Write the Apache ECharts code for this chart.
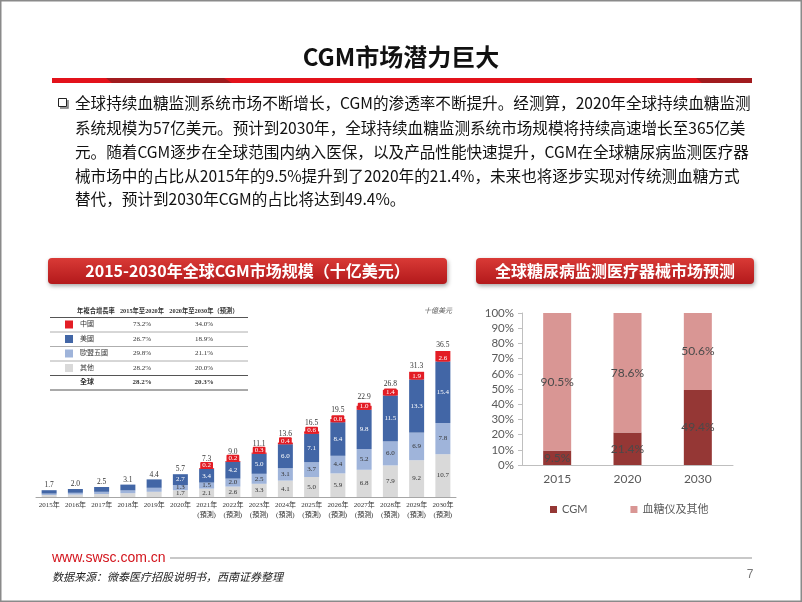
<!DOCTYPE html>
<html><head><meta charset="utf-8">
<script src="https://cdn.jsdelivr.net/npm/echarts@6/dist/echarts.min.js"></script>
<style>html,body{margin:0;padding:0;background:#fff}#c{width:802px;height:602px}</style>
</head><body><div id="c"></div>
<script>
// ---------- data ----------
const titleText = 'CGM市场潜力巨大';
const paragraphLines = [
  '全球持续血糖监测系统市场不断增长，CGM的渗透率不断提升。经测算，2020年全球持续血糖监测',
  '系统规模为57亿美元。预计到2030年，全球持续血糖监测系统市场规模将持续高速增长至365亿美',
  '元。随着CGM逐步在全球范围内纳入医保，以及产品性能快速提升，CGM在全球糖尿病监测医疗器',
  '械市场中的占比从2015年的9.5%提升到了2020年的21.4%，未来也将逐步实现对传统测血糖方式',
  '替代，预计到2030年CGM的占比将达到49.4%。'
];
const leftHeader = '2015-2030年全球CGM市场规模（十亿美元）';
const rightHeader = '全球糖尿病监测医疗器械市场预测';

const yearLabels = ['2015年','2016年','2017年','2018年','2019年','2020年',
  '2021年\n(預測)','2022年\n(預測)','2023年\n(預測)','2024年\n(預測)','2025年\n(預測)',
  '2026年\n(預測)','2027年\n(預測)','2028年\n(預測)','2029年\n(預測)','2030年\n(預測)'];
const othersVals = [0.5,0.6,0.75,0.95,1.3,1.7,2.1,2.6,3.3,4.1,5.0,5.9,6.8,7.9,9.2,10.7];
const eu5Vals    = [0.35,0.45,0.55,0.7,1.0,1.3,1.5,2.0,2.5,3.1,3.7,4.4,5.2,6.0,6.9,7.8];
const usVals     = [0.85,0.95,1.2,1.45,2.1,2.7,3.4,4.2,5.0,6.0,7.1,8.4,9.8,11.5,13.3,15.4];
const chinaVals  = [0,0,0,0,0,0,0.2,0.2,0.3,0.4,0.6,0.8,1.0,1.4,1.9,2.6];
const totalVals  = [1.7,2.0,2.5,3.1,4.4,5.7,7.3,9.0,11.1,13.6,16.5,19.5,22.9,26.8,31.3,36.5];

const tableHead = ['年複合增長率','2015年至2020年','2020年至2030年（預測）'];
const tableRegions = ['中國','美國','歐盟五國','其他','全球'];
const cagr1520 = ['73.2%','26.7%','29.8%','28.2%','28.2%'];
const cagr2030 = ['34.0%','18.9%','21.1%','20.0%','20.3%'];
const unitText = '十億美元';

const shareYears = ['2015','2020','2030'];
const cgmShare   = [9.5,21.4,49.4];
const otherShare = [90.5,78.6,50.6];

const footerUrl = 'www.swsc.com.cn';
const sourceText = '数据来源：微泰医疗招股说明书，西南证券整理';
const pageNo = '7';

// ---------- styles ----------
const CJK = "'Noto Sans CJK SC','Noto Sans',sans-serif";
const SERIF = "'Liberation Serif','Noto Sans CJK TC',serif";
const C_CHINA = '#e31d25', C_US = '#4266a6', C_EU = '#9fb4da', C_OTH = '#d9d9d9';
const swatch = [C_CHINA, C_US, C_EU, C_OTH, null];
const SMALL = 7;

const chart = echarts.init(document.getElementById('c'), null, {renderer:'canvas'});

const g = [];
// slide border
g.push({type:'rect', shape:{x:0.75,y:0.75,width:800.5,height:600.5}, style:{fill:'none', stroke:'#8a8a8a', lineWidth:1.5}, z:100});
// title
g.push({type:'text', x:401, y:57, style:{text:titleText, font:"bold 24px "+CJK, fill:'#111', textAlign:'center', textVerticalAlign:'middle'}});
// red band
g.push({type:'rect', shape:{x:52,y:78,width:700,height:5}, style:{fill:'#e3121b'}});
g.push({type:'polygon', shape:{points:[[106,78],[224,78],[232,83],[112,83]]}, style:{fill:'#a11b1e'}});
g.push({type:'polygon', shape:{points:[[696,78],[752,78],[752,83],[702,83]]}, style:{fill:'#a11b1e'}});
// bullet
g.push({type:'rect', shape:{x:58.5,y:98.5,width:8,height:8}, style:{fill:'#fff', stroke:'#222', lineWidth:1}});
g.push({type:'polyline', shape:{points:[[68,100],[68,108],[60,108]]}, style:{stroke:'#777', lineWidth:1.5, fill:'none'}});
// paragraph
const lineY = [103,128,152,176,199];
paragraphLines.forEach((t,i)=>g.push({type:'text', x:75, y:lineY[i], style:{text:t, font:"15.6px "+CJK, fill:'#111', textVerticalAlign:'middle'}}));
// header bars
function headerBar(x,w,text){
  g.push({type:'rect', shape:{x:x,y:258,width:w,height:26,r:4},
    style:{fill:new echarts.graphic.LinearGradient(0,0,0,1,[{offset:0,color:'#d93a36'},{offset:1,color:'#b3191b'}]),
      shadowBlur:4, shadowColor:'rgba(0,0,0,0.35)', shadowOffsetY:2, shadowOffsetX:1}});
  g.push({type:'text', x:x+w/2, y:271, style:{text:text, font:"bold 16px "+CJK, fill:'#fff', textAlign:'center', textVerticalAlign:'middle'}});
}
headerBar(48,399,leftHeader);
headerBar(476,278,rightHeader);
// table
const colX = [96,142,204];
tableHead.forEach((t,i)=>g.push({type:'text', x:colX[i], y:311, style:{text:t, font:"bold 6.3px "+SERIF, fill:'#333', textAlign:'center', textVerticalAlign:'middle'}}));
const rowY = [324.5,339,353.5,368,382.5];
const ruleY = [317.5,332,346.5,361,375.5,390];
ruleY.forEach((y,i)=>g.push({type:'line', shape:{x1:50,y1:y,x2:248,y2:y}, style:{stroke: (i===0||i===4||i===5)?'#555':'#999', lineWidth:(i===0||i===4||i===5)?1:0.8}}));
tableRegions.forEach((r,i)=>{
  if (swatch[i]) g.push({type:'rect', shape:{x:65,y:rowY[i]-4,width:8,height:8}, style:{fill:swatch[i]}});
  const bold = i===4 ? 'bold ' : '';
  g.push({type:'text', x:80, y:rowY[i], style:{text:r, font:bold+"7px "+SERIF, fill:'#333', textVerticalAlign:'middle'}});
  g.push({type:'text', x:colX[1], y:rowY[i], style:{text:cagr1520[i], font:bold+"7px "+SERIF, fill:'#333', textAlign:'center', textVerticalAlign:'middle'}});
  g.push({type:'text', x:colX[2], y:rowY[i], style:{text:cagr2030[i], font:bold+"7px "+SERIF, fill:'#333', textAlign:'center', textVerticalAlign:'middle'}});
});
g.push({type:'text', x:438, y:311, style:{text:unitText, font:"italic 7px "+SERIF, fill:'#555', textAlign:'center', textVerticalAlign:'middle'}});
// footer
g.push({type:'text', x:52, y:558, style:{text:footerUrl, font:"14px 'Liberation Sans',Arial,sans-serif", fill:'#d3141c', textVerticalAlign:'middle'}});
g.push({type:'line', shape:{x1:170,y1:558,x2:752,y2:558}, style:{stroke:'#c8c8c8', lineWidth:2}});
g.push({type:'text', x:52, y:577, style:{text:sourceText, font:"italic 11px "+CJK, fill:'#222', textVerticalAlign:'middle'}});
g.push({type:'text', x:750, y:575, style:{text:pageNo, font:"12px 'Liberation Sans',sans-serif", fill:'#777', textAlign:'center', textVerticalAlign:'middle'}});

function segLabel(color){
  return {show:true, position:'inside', color:color, fontSize:SMALL, fontFamily:SERIF,
    formatter:p=> p.dataIndex>=5 ? p.value.toFixed(1) : ''};
}

const option = {
  animation:false,
  backgroundColor:'#fff',
  graphic:g,
  grid:[
    {left:36, right:346, top:337, bottom:105},
    {left:522, right:69, top:313, bottom:137}
  ],
  legend:{
    data:['CGM','血糖仪及其他'], left:545, top:499, itemWidth:7, itemHeight:7, itemGap:43, icon:'rect',
    textStyle:{fontSize:11, color:'#595959', fontFamily:"'Lato','Noto Sans CJK SC',sans-serif"}
  },
  xAxis:[
    {type:'category', gridIndex:0, data:yearLabels,
      axisLine:{lineStyle:{color:'#a6a6a6', width:1}}, axisTick:{show:false},
      axisLabel:{interval:0, fontSize:SMALL, color:'#333', fontFamily:SERIF, lineHeight:10, margin:3}},
    {type:'category', gridIndex:1, data:shareYears,
      axisLine:{lineStyle:{color:'#bfbfbf'}}, axisTick:{show:false},
      axisLabel:{fontSize:12, color:'#595959', margin:8, fontFamily:"'Lato','Open Sans',sans-serif"}}
  ],
  yAxis:[
    {type:'value', gridIndex:0, min:0, max:40, show:false, splitLine:{show:false}},
    {type:'value', gridIndex:1, min:0, max:100, interval:10,
      axisLine:{show:true, lineStyle:{color:'#bfbfbf'}},
      axisTick:{show:true, length:4, lineStyle:{color:'#bfbfbf'}},
      splitLine:{show:false},
      axisLabel:{formatter:'{value}%', fontSize:11.5, color:'#595959', margin:8, fontFamily:"'Lato','Open Sans',sans-serif"}}
  ],
  series:[
    {name:'其他', type:'bar', stack:'mkt', xAxisIndex:0, yAxisIndex:0, barWidth:15, data:othersVals,
      itemStyle:{color:C_OTH}, label:segLabel('#333')},
    {name:'歐盟五國', type:'bar', stack:'mkt', xAxisIndex:0, yAxisIndex:0, barWidth:15, data:eu5Vals,
      itemStyle:{color:C_EU}, label:segLabel('#333')},
    {name:'美國', type:'bar', stack:'mkt', xAxisIndex:0, yAxisIndex:0, barWidth:15, data:usVals,
      itemStyle:{color:C_US}, label:segLabel('#fff')},
    {name:'中國', type:'bar', stack:'mkt', xAxisIndex:0, yAxisIndex:0, barWidth:15, data:chinaVals,
      itemStyle:{color:C_CHINA},
      label:{show:true, position:'insideBottom', distance:0, color:'#fff', fontSize:SMALL, fontFamily:SERIF,
        backgroundColor:C_CHINA, padding:[0,2], lineHeight:7, borderRadius:1,
        formatter:p=> p.value>0 ? p.value.toFixed(1) : ''}},
    {name:'總計', type:'bar', stack:'mkt', xAxisIndex:0, yAxisIndex:0, barWidth:15,
      data: totalVals.map((t,i)=>({value:0, label:{distance: chinaVals[i]>0 ? (chinaVals[i]<1.2 ? 5 : 2) : 1}})),
      itemStyle:{color:'transparent'},
      label:{show:true, position:'top', color:'#333', fontSize:7.5, fontFamily:SERIF,
        formatter:p=> totalVals[p.dataIndex].toFixed(1)}},
    {name:'CGM', type:'bar', stack:'share', xAxisIndex:1, yAxisIndex:1, barWidth:28, data:cgmShare,
      itemStyle:{color:'#953735'},
      label:{show:true, position:'inside', color:'#4a4a4a', fontSize:12, fontFamily:"'Lato','Open Sans',sans-serif", formatter:p=>p.value.toFixed(1)+'%'}},
    {name:'血糖仪及其他', type:'bar', stack:'share', xAxisIndex:1, yAxisIndex:1, barWidth:28, data:otherShare,
      itemStyle:{color:'#d99694'},
      label:{show:true, position:'inside', color:'#4a4a4a', fontSize:12, fontFamily:"'Lato','Open Sans',sans-serif", formatter:p=>p.value.toFixed(1)+'%'}}
  ]
};
chart.setOption(option);
</script>
</body></html>
